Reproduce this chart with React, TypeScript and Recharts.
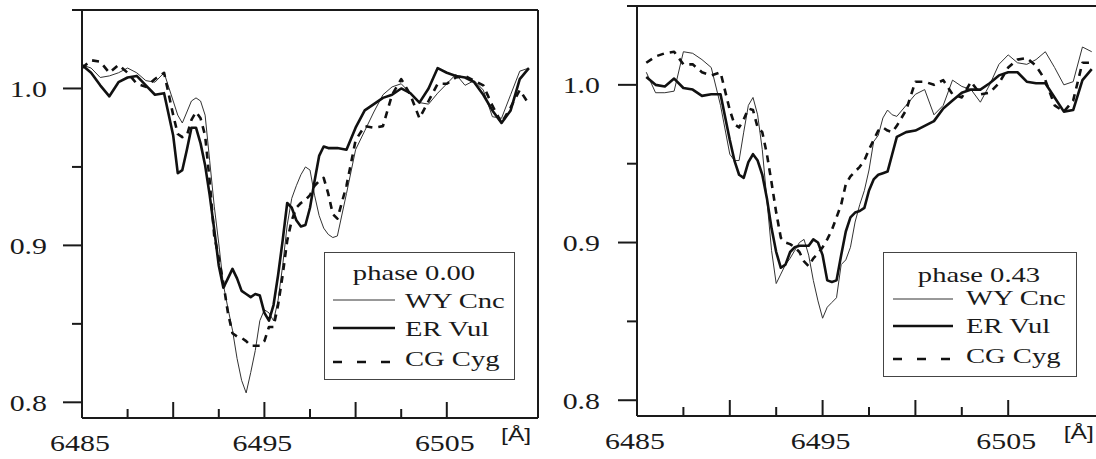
import React from 'react';
import { LineChart, Line, XAxis, YAxis, Legend } from 'recharts';

// ---------- data ----------
const LEFT_WAVELENGTH = [
  6485, 6485.5, 6486, 6486.5, 6487, 6487.5, 6488, 6488.5, 6489, 6489.5, 6490,
  6490.25, 6490.5, 6490.75, 6491, 6491.25, 6491.5, 6491.75, 6492, 6492.25, 6492.5, 6492.75,
  6493, 6493.25, 6493.5, 6493.75, 6494, 6494.25, 6494.5, 6494.75, 6495, 6495.25, 6495.5, 6495.75,
  6496, 6496.25, 6496.5, 6496.75, 6497, 6497.25, 6497.5, 6497.75, 6498, 6498.25, 6498.5, 6498.75,
  6499, 6499.5, 6500, 6500.5, 6501, 6501.5, 6502, 6502.5, 6503, 6503.5, 6504, 6504.5,
  6505, 6505.5, 6506, 6506.5, 6507, 6507.5, 6508, 6508.5, 6509, 6509.5,
];
const LEFT_WY_CNC = [
  1.015, 1.013, 1.007, 1.008, 1.010, 1.013, 1.010, 1.005, 1.004, 1.010, 0.992,
  0.983, 0.978, 0.985, 0.992, 0.994, 0.992, 0.983, 0.954, 0.925, 0.901, 0.875,
  0.860, 0.846, 0.828, 0.814, 0.806, 0.819, 0.833, 0.852, 0.859, 0.857, 0.852, 0.865,
  0.887, 0.913, 0.930, 0.938, 0.945, 0.950, 0.948, 0.932, 0.919, 0.911, 0.907, 0.905,
  0.906, 0.933, 0.961, 0.973, 0.985, 0.996, 1.001, 1.003, 0.997, 0.991, 0.990, 0.997,
  1.003, 1.009, 1.002, 1.005, 0.999, 0.982, 0.981, 0.996, 1.011, 1.013,
];
const LEFT_ER_VUL = [
  1.015, 1.010, 1.002, 0.995, 1.004, 1.007, 1.008, 1.002, 0.996, 0.997, 0.970,
  0.946, 0.948, 0.961, 0.975, 0.975, 0.965, 0.951, 0.932, 0.910, 0.887, 0.873,
  0.879, 0.885, 0.879, 0.871, 0.869, 0.867, 0.869, 0.868, 0.857, 0.852, 0.862, 0.881,
  0.903, 0.927, 0.924, 0.916, 0.912, 0.913, 0.924, 0.941, 0.957, 0.963, 0.962, 0.962,
  0.962, 0.961, 0.975, 0.986, 0.990, 0.994, 0.996, 1.000, 0.997, 0.991, 1.000, 1.013,
  1.010, 1.008, 1.007, 1.004, 0.996, 0.986, 0.978, 0.986, 1.006, 1.013,
];
const LEFT_CG_CYG = [
  1.013, 1.018, 1.017, 1.010, 1.015, 1.010, 1.003, 1.001, 1.006, 1.010, 0.983,
  0.971, 0.969, 0.970, 0.980, 0.985, 0.981, 0.970, 0.941, 0.906, 0.892, 0.876,
  0.857, 0.844, 0.842, 0.841, 0.839, 0.836, 0.836, 0.836, 0.839, 0.848, 0.848, 0.862,
  0.881, 0.903, 0.916, 0.924, 0.927, 0.929, 0.932, 0.938, 0.941, 0.943, 0.933, 0.920,
  0.917, 0.938, 0.967, 0.976, 0.975, 0.976, 0.996, 1.006, 0.996, 0.981, 0.992, 1.003,
  1.003, 1.007, 1.008, 1.005, 1.002, 0.989, 0.978, 0.988, 0.999, 0.990,
];

const RIGHT_WAVELENGTH = [
  6485.5, 6486, 6486.5, 6487, 6487.5, 6488, 6488.5, 6489, 6489.5, 6490,
  6490.25, 6490.5, 6490.75, 6491, 6491.25, 6491.5, 6491.75, 6492, 6492.25, 6492.5, 6492.75,
  6493, 6493.25, 6493.5, 6493.75, 6494, 6494.25, 6494.5, 6494.75, 6495, 6495.25, 6495.5, 6495.75,
  6496, 6496.25, 6496.5, 6496.75, 6497, 6497.25, 6497.5, 6497.75, 6498, 6498.25, 6498.5, 6498.75,
  6499, 6499.5, 6500, 6500.5, 6501, 6501.5, 6502, 6502.5, 6503, 6503.5, 6504, 6504.5,
  6505, 6505.5, 6506, 6506.5, 6507, 6507.5, 6508, 6508.5, 6509, 6509.5,
];
const RIGHT_WY_CNC = [
  1.008, 0.995, 0.995, 0.996, 1.021, 1.020, 1.016, 1.011, 0.987, 0.956,
  0.952, 0.952, 0.970, 0.987, 0.992, 0.981, 0.959, 0.927, 0.895, 0.874, 0.880,
  0.886, 0.890, 0.895, 0.900, 0.902, 0.892, 0.876, 0.863, 0.852, 0.859, 0.862, 0.865,
  0.886, 0.889, 0.897, 0.913, 0.924, 0.933, 0.946, 0.964, 0.968, 0.979, 0.984, 0.981,
  0.980, 0.987, 0.994, 0.997, 0.981, 0.987, 1.003, 0.999, 0.997, 0.989, 1.000, 1.013,
  1.019, 1.014, 1.013, 1.016, 1.021, 1.011, 1.000, 1.002, 1.024, 1.021,
];
const RIGHT_ER_VUL = [
  1.005, 1.000, 0.999, 1.004, 0.998, 0.997, 0.993, 0.994, 0.994, 0.965,
  0.952, 0.943, 0.941, 0.951, 0.956, 0.952, 0.943, 0.928, 0.909, 0.894, 0.884,
  0.886, 0.894, 0.897, 0.898, 0.898, 0.898, 0.902, 0.900, 0.892, 0.876, 0.875, 0.876,
  0.892, 0.907, 0.916, 0.919, 0.920, 0.922, 0.933, 0.940, 0.943, 0.944, 0.945, 0.956,
  0.967, 0.970, 0.971, 0.974, 0.977, 0.985, 0.990, 0.995, 0.997, 0.997, 1.001, 1.006,
  1.008, 1.008, 1.002, 1.001, 1.001, 0.992, 0.983, 0.984, 1.003, 1.010,
];
const RIGHT_CG_CYG = [
  1.014, 1.018, 1.020, 1.021, 1.013, 1.013, 1.008, 1.006, 1.008, 0.984,
  0.975, 0.973, 0.978, 0.985, 0.984, 0.973, 0.970, 0.956, 0.938, 0.919, 0.903,
  0.900, 0.899, 0.897, 0.894, 0.888, 0.885, 0.890, 0.893, 0.897, 0.902, 0.908, 0.916,
  0.924, 0.937, 0.942, 0.945, 0.948, 0.952, 0.959, 0.965, 0.971, 0.973, 0.971, 0.970,
  0.974, 0.984, 1.002, 1.002, 1.000, 1.003, 0.994, 0.992, 1.002, 0.994, 0.995, 1.001,
  1.011, 1.016, 1.017, 1.012, 1.003, 0.987, 0.983, 0.990, 1.014, 1.014,
];

const X_DOMAIN = [6485, 6510];
const X_TICKS = [6485, 6487.5, 6490, 6492.5, 6495, 6497.5, 6500, 6502.5, 6505];
const X_LABELS = [6485, 6495, 6505];
const Y_DOMAIN = [0.79, 1.05];
const Y_TICKS = [0.8, 0.85, 0.9, 0.95, 1.0, 1.05];
const Y_LABELS = [0.8, 0.9, 1.0];
const SERIES_KEYS = ['wy', 'er', 'cg'];
const SERIES_NAMES = ['WY Cnc', 'ER Vul', 'CG Cyg'];
const PHASE_TITLES = ['phase 0.00', 'phase 0.43'];
const UNIT_LABEL = '[Å]';

// ---------- styles ----------
const SERIF = '"Liberation Serif", "Times New Roman", serif';
const SANS = '"Liberation Sans", Arial, sans-serif';
const INK = '#1a1a1a';
const SX = 1.3;

const SERIES_STYLE: Record<string, { stroke: string; width: number; dash?: string; legendDash?: string }> = {
  wy: { stroke: '#333', width: 1 },
  er: { stroke: '#111', width: 2.6 },
  cg: { stroke: '#111', width: 2.6, dash: '7 6', legendDash: '9 15' },
};

function StretchText({ x, y, anchor = 'start', size = 23, family = SERIF, children }: any) {
  return (
    <text
      transform={`translate(${x},${y}) scale(${SX},1)`}
      textAnchor={anchor}
      fill={INK}
      style={{ fontFamily: family, fontSize: size, fontWeight: 'normal' }}
    >
      {children}
    </text>
  );
}

function buildRows(wl: number[], wy: number[], er: number[], cg: number[]) {
  return wl.map((w, i) => ({ wl: w, wy: wy[i], er: er[i], cg: cg[i] }));
}

function LegendBox({ payload, title, cfg }: any) {
  const items = [...(payload || [])].sort(
    (a: any, b: any) => SERIES_KEYS.indexOf(String(a.dataKey)) - SERIES_KEYS.indexOf(String(b.dataKey)),
  );
  return (
    <svg width={cfg.width} height={cfg.height} style={{ display: 'block' }}>
      <rect x={0.5} y={0.5} width={cfg.width - 1} height={cfg.height - 1} fill="#fff" stroke="#444" strokeWidth={1} />
      <StretchText x={cfg.titleX} y={cfg.titleY} anchor="middle" size={22}>{title}</StretchText>
      {items.map((entry: any, i: number) => {
        const key = String(entry.dataKey);
        const st = SERIES_STYLE[key] || SERIES_STYLE.wy;
        return (
          <g key={key}>
            <line
              x1={cfg.lineX1}
              x2={cfg.lineX2}
              y1={cfg.lineY[i]}
              y2={cfg.lineY[i]}
              stroke={st.stroke}
              strokeWidth={st.width}
              strokeDasharray={st.legendDash}
            />
            <StretchText x={cfg.textX} y={cfg.baseY[i]} size={22}>{entry.value}</StretchText>
          </g>
        );
      })}
    </svg>
  );
}

function Panel({ cfg, rows, title }: any) {
  const plotLeft = cfg.yAxisW;
  const plotTop = cfg.topH;
  const plotBottom = cfg.height - cfg.bottomH;

  const bottomTick = (p: any) => {
    const v = p.payload.value;
    const major = Math.abs(v % 5) < 1e-6;
    const len = major ? 16 : 9;
    return (
      <g>
        <line x1={p.x} x2={p.x} y1={plotBottom} y2={plotBottom - len} stroke={INK} strokeWidth={2} />
        {X_LABELS.includes(v) && (
          <StretchText x={p.x - 2} y={plotBottom + 33} anchor="middle" size={23}>{v}</StretchText>
        )}
      </g>
    );
  };
  const topTick = (p: any) => {
    const v = p.payload.value;
    const major = Math.abs(v % 5) < 1e-6;
    const len = major ? 15 : 8;
    return <line x1={p.x} x2={p.x} y1={plotTop} y2={plotTop + len} stroke={INK} strokeWidth={2} />;
  };
  const yTick = (p: any) => {
    const v = p.payload.value;
    const major = Y_LABELS.some((l) => Math.abs(l - v) < 1e-6);
    const len = major ? 19 : 10;
    return (
      <g>
        <line x1={plotLeft - len} x2={plotLeft} y1={p.y} y2={p.y} stroke={INK} strokeWidth={2} />
        {major && (
          <StretchText x={cfg.yLabelRight} y={p.y + 8.5} anchor="end" size={23}>{v.toFixed(1)}</StretchText>
        )}
      </g>
    );
  };
  const unitLabel = (p: any) => {
    const vb = p.viewBox || {};
    return (
      <StretchText x={vb.x + vb.width * 0.952} y={vb.y + 23} anchor="middle" size={19} family={SANS}>
        {UNIT_LABEL}
      </StretchText>
    );
  };

  const axisLine = { stroke: INK, strokeWidth: 2 };

  return (
    <div style={{ position: 'absolute', left: cfg.left, top: cfg.top }}>
      <LineChart width={cfg.width} height={cfg.height} data={rows} margin={{ top: 0, right: 0, bottom: 0, left: 0 }}>
        <XAxis
          xAxisId="bottom"
          dataKey="wl"
          type="number"
          domain={X_DOMAIN}
          allowDataOverflow
          ticks={X_TICKS}
          interval={0}
          height={cfg.bottomH}
          axisLine={axisLine}
          tickLine={false}
          tick={bottomTick}
          label={{ content: unitLabel }}
        />
        <XAxis
          xAxisId="top"
          orientation="top"
          type="number"
          domain={X_DOMAIN}
          allowDataOverflow
          ticks={X_TICKS}
          interval={0}
          height={cfg.topH}
          axisLine={axisLine}
          tickLine={false}
          tick={topTick}
        />
        <YAxis
          yAxisId="left"
          type="number"
          domain={Y_DOMAIN}
          allowDataOverflow
          ticks={Y_TICKS}
          interval={0}
          width={cfg.yAxisW}
          axisLine={axisLine}
          tickLine={false}
          tick={yTick}
        />
        <YAxis
          yAxisId="right"
          orientation="right"
          type="number"
          domain={Y_DOMAIN}
          allowDataOverflow
          width={cfg.rightW}
          axisLine={axisLine}
          tickLine={false}
          tick={false}
        />
        {SERIES_KEYS.map((k, i) => (
          <Line
            key={k}
            xAxisId="bottom"
            yAxisId="left"
            type="linear"
            dataKey={k}
            name={SERIES_NAMES[i]}
            stroke={SERIES_STYLE[k].stroke}
            strokeWidth={SERIES_STYLE[k].width}
            strokeDasharray={SERIES_STYLE[k].dash}
            strokeLinejoin="round"
            dot={false}
            activeDot={false}
            isAnimationActive={false}
          />
        ))}
        <Legend
          layout="horizontal"
          verticalAlign="middle"
          align="center"
          wrapperStyle={{
            position: 'absolute',
            left: cfg.legend.left,
            top: cfg.legend.top,
            width: cfg.legend.width,
            height: cfg.legend.height,
            margin: 0,
            padding: 0,
          }}
          content={(p: any) => <LegendBox payload={p.payload} title={title} cfg={cfg.legend} />}
        />
      </LineChart>
    </div>
  );
}

const LEFT_CFG = {
  left: 0, top: 0, width: 560, height: 459, yAxisW: 82, rightW: 22, topH: 10, bottomH: 41, yLabelRight: 47,
  legend: {
    left: 324, top: 252, width: 191, height: 128, titleX: 90, titleY: 28,
    lineX1: 9, lineX2: 71, textX: 81, lineY: [48, 76, 110], baseY: [56, 84, 114],
  },
};
const RIGHT_CFG = {
  left: 555, top: 0, width: 568, height: 459, yAxisW: 82, rightW: 22, topH: 6, bottomH: 43, yLabelRight: 45,
  legend: {
    left: 328, top: 252, width: 194, height: 125, titleX: 96, titleY: 30,
    lineX1: 10, lineX2: 70, textX: 83, lineY: [47, 74, 107], baseY: [53, 81, 111],
  },
};

export default function App() {
  const leftRows = buildRows(LEFT_WAVELENGTH, LEFT_WY_CNC, LEFT_ER_VUL, LEFT_CG_CYG);
  const rightRows = buildRows(RIGHT_WAVELENGTH, RIGHT_WY_CNC, RIGHT_ER_VUL, RIGHT_CG_CYG);
  return (
    <div
      style={{
        position: 'absolute',
        left: 0,
        top: 0,
        width: 1096,
        height: 459,
        overflow: 'hidden',
        background: '#fff',
      }}
    >
      <Panel cfg={LEFT_CFG} rows={leftRows} title={PHASE_TITLES[0]} />
      <Panel cfg={RIGHT_CFG} rows={rightRows} title={PHASE_TITLES[1]} />
    </div>
  );
}
